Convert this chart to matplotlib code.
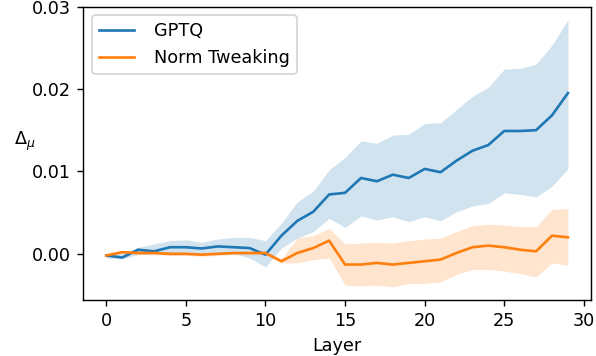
import numpy as np
import matplotlib
matplotlib.use("Agg")
import matplotlib.pyplot as plt

layers = np.arange(30)

gptq_mean = [-0.0002, -0.00045, 0.0005, 0.0003, 0.0008, 0.0008, 0.00065, 0.0009, 0.0008, 0.0007,
             -0.0001, 0.0022, 0.0040, 0.0051, 0.0072, 0.0074, 0.0092, 0.0088, 0.0096, 0.0092,
             0.0103, 0.0099, 0.0113, 0.0125, 0.0132, 0.0149, 0.0149, 0.0150, 0.0168, 0.0195]
gptq_low = [-0.0005, -0.0006, -0.0001, 0.0000, 0.0001, 0.0001, 0.0000, 0.0000, 0.0000, -0.0005,
            -0.0016, 0.0007, 0.0019, 0.0027, 0.0043, 0.0032, 0.0046, 0.0041, 0.0045, 0.0039,
            0.0045, 0.0040, 0.0051, 0.0058, 0.0061, 0.0074, 0.0072, 0.0069, 0.0082, 0.0103]
gptq_high = [0.0000, 0.0000, 0.0008, 0.0012, 0.0016, 0.0017, 0.0014, 0.0018, 0.0020, 0.0020,
             0.0016, 0.0037, 0.0063, 0.0076, 0.0102, 0.0117, 0.0137, 0.0134, 0.0144, 0.0145,
             0.0158, 0.0159, 0.0175, 0.0191, 0.0202, 0.0224, 0.0225, 0.0230, 0.0253, 0.0284]

norm_mean = [-0.0002, 0.0002, 0.0001, 0.0001, 0.0000, 0.0000, -0.0001, 0.0000, 0.0001, 0.0001,
             0.0001, -0.0009, 0.0001, 0.0007, 0.0016, -0.0013, -0.0013, -0.0011, -0.0013, -0.0011,
             -0.0009, -0.0007, 0.0001, 0.0008, 0.0010, 0.0008, 0.0005, 0.0003, 0.0022, 0.0020]
norm_low = [-0.0004, 0.0000, -0.0001, -0.0001, -0.0002, -0.0002, -0.0003, -0.0002, -0.0001, -0.0001,
            -0.0001, -0.0011, -0.0011, -0.0007, -0.0005, -0.0038, -0.0039, -0.0038, -0.0040, -0.0036,
            -0.0036, -0.0034, -0.0025, -0.0019, -0.0019, -0.0021, -0.0024, -0.0028, -0.0011, -0.0014]
norm_high = [0.0000, 0.0004, 0.0003, 0.0003, 0.0002, 0.0002, 0.0001, 0.0002, 0.0003, 0.0003,
             0.0003, -0.0006, 0.0019, 0.0022, 0.0031, 0.0012, 0.0013, 0.0014, 0.0013, 0.0016,
             0.0018, 0.0019, 0.0027, 0.0034, 0.0036, 0.0035, 0.0033, 0.0033, 0.0054, 0.0055]

DPI = 127
fig = plt.figure(figsize=(596 / DPI, 356 / DPI), dpi=DPI)
ax = fig.add_axes([83.2 / 596, 56 / 356, 507.8 / 596, 293.5 / 356])

ax.plot(layers, gptq_mean, color="C0", label="GPTQ")
ax.fill_between(layers, gptq_low, gptq_high, color="C0", alpha=0.2, linewidth=0)
ax.plot(layers, norm_mean, color="C1", label="Norm Tweaking")
ax.fill_between(layers, norm_low, norm_high, color="C1", alpha=0.2, linewidth=0)

ax.set_ylim(-0.0056, 0.030)
ax.set_yticks([0.0, 0.01, 0.02, 0.03])
ax.set_xlabel("Layer")
ax.set_ylabel(r"$\Delta_\mu$", rotation=0)
ax.legend(loc="upper left", handletextpad=1.1)

fig.savefig("out.png", dpi=DPI)
